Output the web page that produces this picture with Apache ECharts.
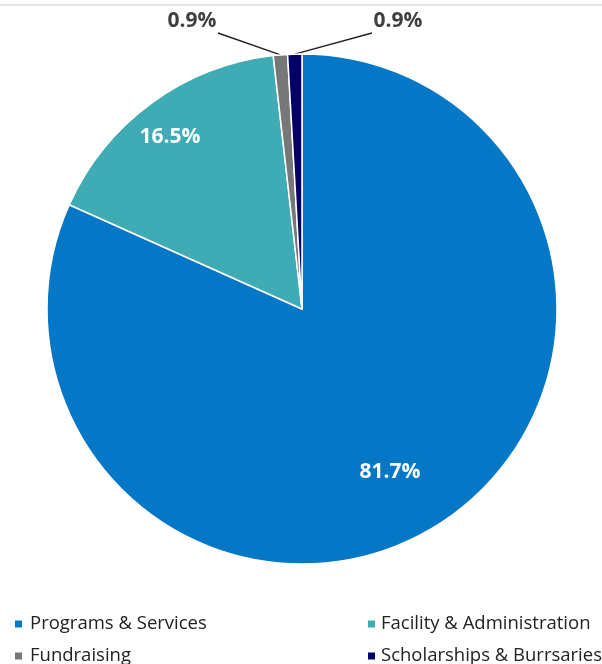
<!DOCTYPE html>
<html>
<head>
<meta charset="utf-8">
<script src="https://cdn.jsdelivr.net/npm/echarts@6/dist/echarts.min.js"></script>
<style>
html,body{margin:0;padding:0;background:#fff;}
#main{width:602px;height:664px;}
</style>
</head>
<body>
<div id="main"></div>
<script>
const categories = ['Programs & Services', 'Facility & Administration', 'Fundraising', 'Scholarships & Burrsaries'];
const values = [81.7, 16.5, 0.9, 0.9];
const colors = ['#0477C6', '#3FABB4', '#777777', '#00006B'];

const FONT = '"Open Sans", "Liberation Sans", sans-serif';
// label placements (layout only)
const labelPos = [
  {x: 390, y: 472, line: null},
  {x: 170, y: 137, line: null},
  {x: 192, y: 21, line: [218, 33]},
  {x: 398, y: 21, line: [372, 33]}
];

const chart = echarts.init(document.getElementById('main'));
chart.setOption({
  animation: false,
  color: colors,
  graphic: [{
    type: 'line', shape: {x1: 0, y1: 5, x2: 602, y2: 5},
    style: {stroke: '#DCDCDC', lineWidth: 1.5}, silent: true
  }],
  legend: [{
    data: [categories[0], categories[2]],
    orient: 'vertical', left: 13, top: 614, padding: 0, height: 60,
    icon: 'rect', itemWidth: 9, itemHeight: 9, itemGap: 12,
    textStyle: {fontFamily: FONT, fontSize: 18.5, lineHeight: 20, color: '#222', padding: [0, 0, 0, 2]}
  }, {
    data: [categories[1], categories[3]],
    orient: 'vertical', left: 366, top: 614, padding: 0, height: 60,
    icon: 'rect', itemWidth: 9, itemHeight: 9, itemGap: 12,
    textStyle: {fontFamily: FONT, fontSize: 18.5, lineHeight: 20, color: '#222'}
  }],
  series: [{
    type: 'pie',
    center: [302, 309],
    radius: 255,
    startAngle: 90,
    clockwise: true,
    avoidLabelOverlap: false,
    itemStyle: {borderColor: '#fff', borderWidth: 1.5},
    data: categories.map((c, i) => ({
      name: c, value: values[i],
      label: i < 2 ? {position: 'inside', color: '#fff'} : {position: 'outside', color: '#404040'},
      labelLine: {show: i >= 2, length: 10, length2: 10, lineStyle: {color: '#222', width: 1.5}}
    })),
    label: {
      formatter: p => p.value.toFixed(1) + '%',
      fontFamily: FONT, fontSize: 21, fontWeight: 'bold'
    },
    labelLayout: function (params) {
      const lp = labelPos[params.dataIndex];
      const res = {x: lp.x, y: lp.y, align: 'center', verticalAlign: 'middle'};
      if (lp.line && params.labelLinePoints) {
        const pts = params.labelLinePoints;
        res.labelLinePoints = [pts[0], lp.line, lp.line];
      }
      return res;
    }
  }]
});
</script>
</body>
</html>
